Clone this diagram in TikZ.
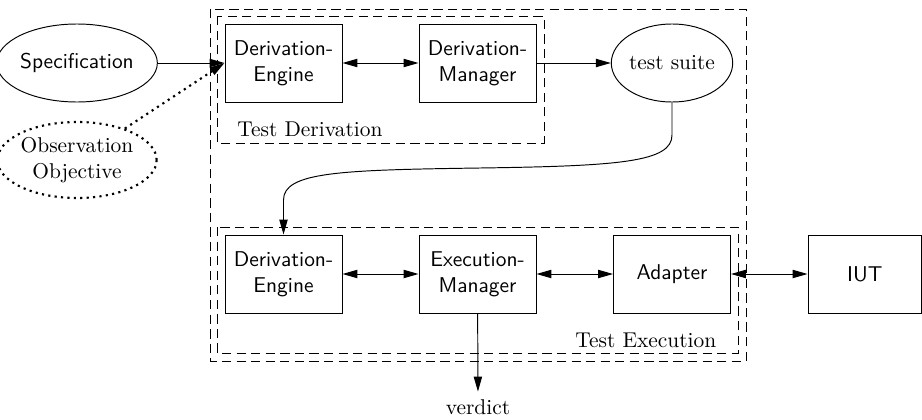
\documentclass[tikz,border=0pt]{standalone}
\usetikzlibrary{arrows.meta,shapes.geometric}
\newcommand\pxlen{0.467pt}
\tikzset{
  tip/.style={-{Triangle[length=7pt,width=3.9pt]}},
  dtip/.style={{Triangle[length=7pt,width=3.9pt]}-{Triangle[length=7pt,width=3.9pt]}},
  unit/.style={draw, rectangle, font=\sffamily, align=center, inner sep=0pt,
    minimum width=117*\pxlen, minimum height=78*\pxlen},
  blob/.style={draw, ellipse, align=center, inner sep=0pt},
  dots/.style={dotted, line width=1pt},
  group/.style={draw, dash pattern=on 4.3pt off 2.5pt},
  grouplabel/.style={inner sep=0pt}
}
\begin{document}
\begin{tikzpicture}[x=0.467pt, y=-0.467pt, line width=0.45pt]
\useasboundingbox (0,0) rectangle (922,419);

% enclosing frames
\draw[group] (210,9) rectangle (746,361);
\draw[group] (217,16) rectangle (544,143);
\draw[group] (217,227) rectangle (738,353);
\node[grouplabel, anchor=base west] (tdlabel) at (237,136) {Test Derivation};
\node[grouplabel, anchor=base west] (telabel) at (575,347) {Test Execution};

% inputs
\node[blob, font=\sffamily, minimum width=140*\pxlen, minimum height=78*\pxlen] (spec) at (77,63) {Specification};
\node[blob, dots, minimum width=141*\pxlen, minimum height=76*\pxlen] (obs) at (77,160) {Observation\\Objective};

% derivation part
\node[unit] (de1) at (283.5,63) {Derivation-\\Engine};
\node[unit] (dm) at (477.5,63) {Derivation-\\Manager};
\node[blob, minimum width=118*\pxlen, minimum height=78*\pxlen] (ts) at (672,63) {test suite};

% execution part
\node[unit] (de2) at (283.5,274) {Derivation-\\Engine};
\node[unit] (em) at (477.5,274) {Execution-\\Manager};
\node[unit] (ad) at (672,274) {Adapter};
\node[unit, minimum width=113.5*\pxlen] (iut) at (864.75,274) {IUT};
\node[anchor=base] (verdict) at (478,414) {verdict};

% connectors
\draw[tip] (spec) -- (de1.west);
\draw[tip, dots] (obs) -- (de1.west);
\draw[dtip] (de1) -- (dm);
\draw[tip] (dm) -- (ts);
\draw[tip] (ts.south) -- (672,135)
  .. controls (672,162) and (620,166) .. (480,168)
  .. controls (340,170) and (283.5,172) .. (283.5,200) -- (de2.north);
\draw[dtip] (de2) -- (em);
\draw[dtip] (em) -- (ad);
\draw[dtip] (ad) -- (iut);
\draw[tip] (em) -- (verdict);
\end{tikzpicture}
\end{document}
